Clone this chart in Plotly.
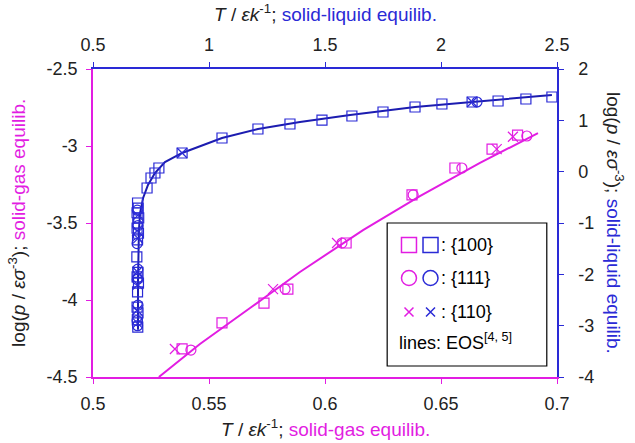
import plotly.graph_objects as go

# ---------------- data: solid-gas equilibrium (bottom T axis, left log p axis)
sg_sq_T = [0.5384, 0.5556, 0.5737, 0.5840, 0.6091, 0.6375, 0.6560, 0.6720, 0.6830]
sg_sq_v = [-4.318, -4.149, -4.020, -3.929, -3.630, -3.318, -3.143, -3.020, -2.930]
sg_ci_T = [0.5422, 0.5828, 0.6073, 0.6380, 0.6590, 0.6870]
sg_ci_v = [-4.325, -3.929, -3.630, -3.318, -3.143, -2.935]
sg_x_T = [0.5353, 0.5776, 0.6052, 0.6740, 0.6810]
sg_x_v = [-4.318, -3.929, -3.630, -3.020, -2.940]
sg_eos_T = [0.5284, 0.5461, 0.5677, 0.5892, 0.6164, 0.6409, 0.6668, 0.6918]
sg_eos_v = [-4.500, -4.286, -4.052, -3.818, -3.546, -3.325, -3.110, -2.916]

# ---------------- data: solid-liquid equilibrium (top T axis, right log p axis)
sl_sq_T = [0.692, 0.695, 0.690, 0.697, 0.693, 0.690, 0.696, 0.692, 0.689, 0.694,
           0.690, 0.696, 0.692, 0.690, 0.694, 0.691, 0.693,
           0.733, 0.750, 0.767, 0.784, 0.884, 1.056, 1.211, 1.349, 1.487,
           1.616, 1.750, 1.888, 2.004, 2.134, 2.246, 2.366, 2.478]
sl_sq_v = [-0.61, -0.71, -0.80, -0.90, -1.00, -1.10, -1.20, -1.33, -1.66, -1.96,
           -2.05, -2.17, -2.34, -2.64, -2.75, -2.89, -3.03,
           -0.318, -0.123, -0.026, 0.071, 0.364, 0.656, 0.831, 0.929, 1.006,
           1.084, 1.162, 1.260, 1.318, 1.357, 1.377, 1.416, 1.455]
sl_ci_T = [0.691, 0.694, 0.690, 0.693, 0.691, 0.694, 0.690, 0.692, 2.155]
sl_ci_v = [-0.75, -1.05, -1.40, -1.90, -2.10, -2.60, -2.90, -3.00, 1.357]
sl_x_T = [0.693, 0.690, 0.694, 0.691, 0.693, 0.690, 0.692, 0.884, 2.134]
sl_x_v = [-0.85, -1.15, -1.30, -1.95, -2.20, -2.70, -2.95, 0.364, 1.357]
sl_eos_T = [0.694, 0.694, 0.698, 0.703, 0.716, 0.737, 0.767, 0.810, 0.884,
            0.961, 1.056, 1.211, 1.392, 1.608, 1.888, 2.134, 2.478]
sl_eos_v = [-3.08, -2.11, -1.136, -0.805, -0.513, -0.26, -0.026, 0.188, 0.364,
            0.50, 0.656, 0.831, 0.968, 1.104, 1.26, 1.357, 1.494]

# tick labels
bx_ticks = [0.5, 0.55, 0.6, 0.65, 0.7]
tx_ticks = [0.5, 1, 1.5, 2, 2.5]
ly_ticks = [-4.5, -4, -3.5, -3, -2.5]
ry_ticks = [-4, -3, -2, -1, 0, 1, 2]

# legend labels
legend_labels = [": {100}", ": {111}", ": {110}"]
legend_note = "lines: EOS<sup>[4, 5]</sup>"

MAG = "#E21DE2"
BLUE = "#2A2AD6"
BLUE_LINE = "#1C1CB0"
TXT = "#222222"
FONT = "Liberation Sans, Arial, sans-serif"

fig = go.Figure()

# solid-gas
fig.add_trace(go.Scatter(x=sg_eos_T, y=sg_eos_v, mode="lines",
                         line=dict(color=MAG, width=2), xaxis="x", yaxis="y"))
fig.add_trace(go.Scatter(x=sg_sq_T, y=sg_sq_v, mode="markers", xaxis="x", yaxis="y",
                         marker=dict(symbol="square-open", size=10, color=MAG, line=dict(width=1.2))))
fig.add_trace(go.Scatter(x=sg_ci_T, y=sg_ci_v, mode="markers", xaxis="x", yaxis="y",
                         marker=dict(symbol="circle-open", size=10, color=MAG, line=dict(width=1.2))))
fig.add_trace(go.Scatter(x=sg_x_T, y=sg_x_v, mode="markers", xaxis="x", yaxis="y",
                         marker=dict(symbol="x-thin-open", size=10, color=MAG, line=dict(width=1.2, color=MAG))))

# solid-liquid
fig.add_trace(go.Scatter(x=sl_eos_T, y=sl_eos_v, mode="lines",
                         line=dict(color=BLUE_LINE, width=2), xaxis="x2", yaxis="y2"))
fig.add_trace(go.Scatter(x=sl_sq_T, y=sl_sq_v, mode="markers", xaxis="x2", yaxis="y2",
                         marker=dict(symbol="square-open", size=10, color=BLUE, line=dict(width=1.2))))
fig.add_trace(go.Scatter(x=sl_ci_T, y=sl_ci_v, mode="markers", xaxis="x2", yaxis="y2",
                         marker=dict(symbol="circle-open", size=10, color=BLUE, line=dict(width=1.2))))
fig.add_trace(go.Scatter(x=sl_x_T, y=sl_x_v, mode="markers", xaxis="x2", yaxis="y2",
                         marker=dict(symbol="x-thin-open", size=10, color=BLUE, line=dict(width=1.2, color=BLUE))))

# legend key symbols, placed on a hidden unit overlay axis (layout positions, not data)
key_x = [0.681, 0.7274]
key_y = [0.4286, 0.3214, 0.211]
key_sym = [("square-open", 15), ("circle-open", 15), ("x-thin-open", 9)]
for (sym, sz), yy in zip(key_sym, key_y):
    for xx, col in zip(key_x, [MAG, BLUE]):
        fig.add_trace(go.Scatter(x=[xx], y=[yy], mode="markers", xaxis="x3", yaxis="y3",
                                 marker=dict(symbol=sym, size=sz, color=col,
                                             line=dict(width=1.5, color=col))))

axis_common = dict(showgrid=False, zeroline=False, showline=True, linewidth=1.5,
                   ticks="outside", ticklen=5, tickwidth=1.2,
                   tickfont=dict(family=FONT, size=18, color=TXT))

fig.update_layout(
    width=635, height=443,
    margin=dict(l=93, r=78, t=69, b=66),
    paper_bgcolor="white", plot_bgcolor="white",
    showlegend=False,
    font=dict(family=FONT, color=TXT),
    xaxis=dict(range=[0.5, 0.7], tickvals=bx_ticks, ticktext=[str(v) for v in bx_ticks],
               linecolor=MAG, tickcolor=MAG, ticklabelstandoff=5, **axis_common),
    xaxis2=dict(range=[0.5, 2.5], tickvals=tx_ticks, ticktext=[str(v) for v in tx_ticks],
                overlaying="x", side="top", anchor="y",
                linecolor=BLUE, tickcolor=BLUE, ticklabelstandoff=4, **axis_common),
    yaxis=dict(range=[-4.5, -2.5], tickvals=ly_ticks, ticktext=[str(v) for v in ly_ticks],
               linecolor=MAG, tickcolor=MAG, ticklabelstandoff=5, **axis_common),
    yaxis2=dict(range=[-4, 2], tickvals=ry_ticks, ticktext=[str(v) for v in ry_ticks],
                overlaying="y", side="right", anchor="x",
                linecolor=BLUE, tickcolor=BLUE, ticklabelstandoff=11, **axis_common),
    xaxis3=dict(range=[0, 1], overlaying="x", visible=False, fixedrange=True),
    yaxis3=dict(range=[0, 1], overlaying="y", visible=False, fixedrange=True),
)

tfont = dict(family=FONT, size=19, color=TXT)
ann = [
    dict(text="<i>T</i> / <i>εk</i><sup>-1</sup>; <span style='color:%s'>solid-gas equilib.</span>" % MAG,
         x=0.5, y=-0.166, xref="paper", yref="paper", showarrow=False, font=tfont,
         xanchor="center", yanchor="middle"),
    dict(text="<i>T</i> / <i>εk</i><sup>-1</sup>; <span style='color:%s'>solid-liquid equilib.</span>" % BLUE,
         x=0.5, y=1.183, xref="paper", yref="paper", showarrow=False, font=tfont,
         xanchor="center", yanchor="middle"),
    dict(text="log(<i>p</i> / <i>εσ</i><sup>-3</sup>); <span style='color:%s'>solid-gas equilib.</span>" % MAG,
         x=-0.164, y=0.5, xref="paper", yref="paper", showarrow=False, font=tfont,
         textangle=-90, xanchor="center", yanchor="middle"),
    dict(text="log(<i>p</i> / <i>εσ</i><sup>-3</sup>); <span style='color:%s'>solid-liquid equilib.</span>" % BLUE,
         x=1.125, y=0.5, xref="paper", yref="paper", showarrow=False, font=tfont,
         textangle=90, xanchor="center", yanchor="middle"),
]

lfont = dict(family=FONT, size=18, color="black")
for txt, yy in zip(legend_labels, key_y):
    ann.append(dict(text=txt, x=0.746, y=yy, xref="paper", yref="paper", showarrow=False,
                    font=lfont, xanchor="left", yanchor="middle", align="left"))
ann.append(dict(text=legend_note, x=0.655, y=0.114, xref="paper", yref="paper", showarrow=False,
                font=lfont, xanchor="left", yanchor="middle", align="left"))
fig.update_layout(annotations=ann)
fig.add_shape(type="rect", xref="paper", yref="paper", x0=0.634, x1=0.978, y0=0.0357, y1=0.5,
              line=dict(color="black", width=1.2), fillcolor="white", layer="below")

fig.write_html("out.html")
